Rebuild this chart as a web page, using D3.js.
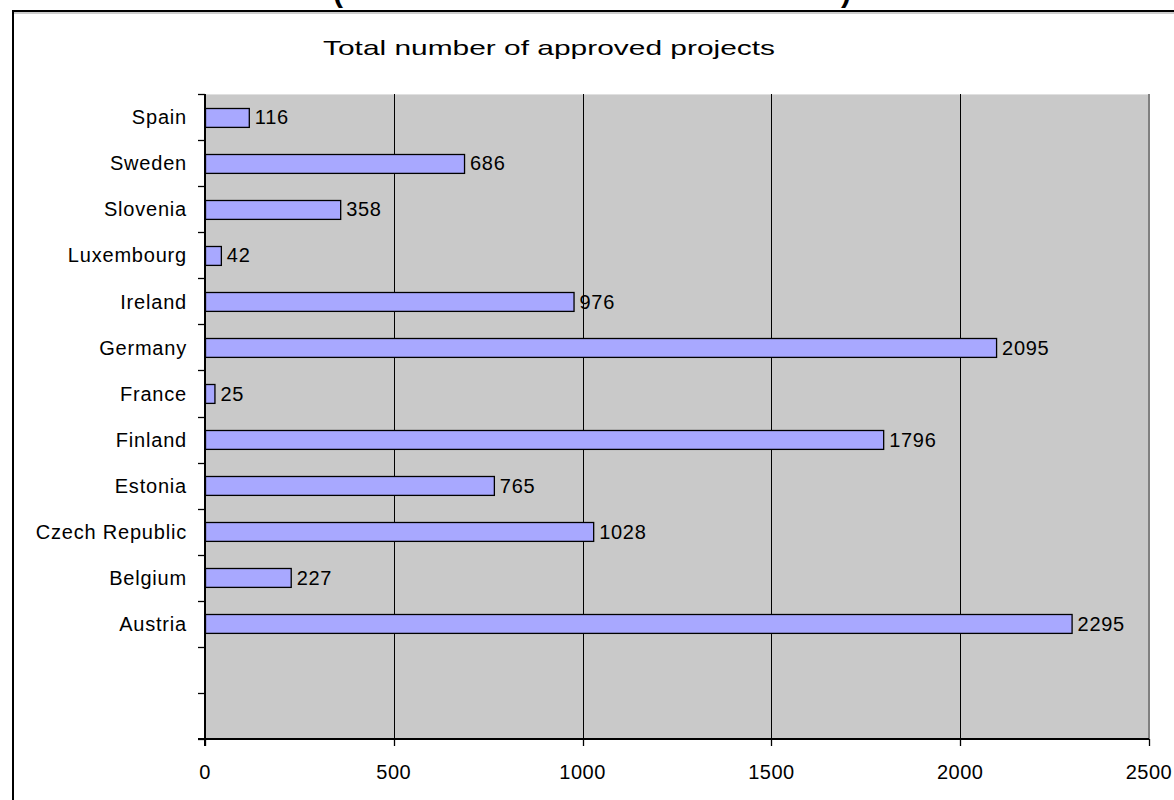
<!DOCTYPE html>
<html><head><meta charset="utf-8">
<script src="https://cdn.jsdelivr.net/npm/d3@7/dist/d3.min.js"></script>
<style>
html,body{margin:0;padding:0;background:#fff;overflow:hidden;}
text{font-family:"Liberation Sans",Arial,sans-serif;fill:#000;}
</style></head>
<body>
<svg id="chart" width="1174" height="800"></svg>
<script>
const categories = ["Spain","Sweden","Slovenia","Luxembourg","Ireland","Germany","France","Finland","Estonia","Czech Republic","Belgium","Austria","",""];
const values = [116,686,358,42,976,2095,25,1796,765,1028,227,2295,null,null];
const xTicks = [0,500,1000,1500,2000,2500];
const chartTitle = "Total number of  approved projects";

const svg = d3.select("#chart");
const m = {left:205, right:1149, top:94, bottom:739};

// outer frame
svg.append("rect").attr("x",13).attr("y",11).attr("width",1300).attr("height",900)
  .attr("fill","#fff").attr("stroke","#000").attr("stroke-width",2);
svg.append("line").attr("x1",14).attr("x2",1174).attr("y1",13).attr("y2",13).attr("stroke","#999").attr("stroke-width",1);

// main title (mostly outside the picture, only the parentheses show)
svg.append("text").attr("x",338).attr("y",2).attr("font-size",30).attr("font-weight","bold").attr("text-anchor","middle").text("(");
svg.append("text").attr("x",846).attr("y",2).attr("font-size",30).attr("font-weight","bold").attr("text-anchor","middle").text(")");

const x = d3.scaleLinear().domain([0,2500]).range([m.left,m.right]);
const y = d3.scaleBand().domain(d3.range(categories.length)).range([m.top,m.bottom]).paddingInner(0.59).paddingOuter(0.295);
const yb = d3.scaleBand().domain(d3.range(categories.length)).range([m.top,m.bottom]);

// plot area
svg.append("rect").attr("x",m.left).attr("y",m.top).attr("width",m.right-m.left).attr("height",m.bottom-m.top).attr("fill","#c9c9c9");
svg.append("line").attr("x1",m.left).attr("x2",m.right).attr("y1",m.top+0.5).attr("y2",m.top+0.5).attr("stroke","#e0e0e0");
svg.append("line").attr("x1",m.right).attr("x2",m.right).attr("y1",m.top).attr("y2",m.bottom).attr("stroke","#808080").attr("stroke-width",2);

// gridlines
svg.append("g").selectAll("line").data(xTicks.filter(d=>d>0&&d<2500)).join("line")
  .attr("x1",d=>Math.round(x(d))+0.5).attr("x2",d=>Math.round(x(d))+0.5)
  .attr("y1",m.top).attr("y2",m.bottom).attr("stroke","#000").attr("stroke-width",1);

// bars
const data = categories.map((c,i)=>({c,v:values[i],i})).filter(d=>d.v!=null);
svg.append("g").selectAll("rect").data(data).join("rect")
  .attr("x",x(0)+0.5).attr("y",d=>Math.round(y(d.i))+0.5)
  .attr("width",d=>x(d.v)-x(0)).attr("height",y.bandwidth())
  .attr("fill","#a8a8ff").attr("stroke","#000").attr("stroke-width",1.3);

// value labels
svg.append("g").selectAll("text").data(data).join("text")
  .attr("x",d=>x(d.v)+6).attr("y",d=>yb(d.i)+yb.bandwidth()/2)
  .attr("dy","0.36em").attr("font-size",20).attr("letter-spacing",0.7).text(d=>d.v);

// y axis
const ya = svg.append("g");
ya.append("line").attr("x1",m.left).attr("x2",m.left).attr("y1",m.top).attr("y2",m.bottom+7).attr("stroke","#000").attr("stroke-width",2);
ya.selectAll("line.t").data(d3.range(categories.length+1)).join("line").attr("class","t")
  .attr("x1",m.left-7).attr("x2",m.left).attr("y1",d=>Math.round(m.top+d*yb.step())+0.5).attr("y2",d=>Math.round(m.top+d*yb.step())+0.5)
  .attr("stroke","#000").attr("stroke-width",1.3);
ya.selectAll("text").data(categories.map((c,i)=>({c,i}))).join("text")
  .attr("x",187).attr("y",d=>yb(d.i)+yb.bandwidth()/2).attr("dy","0.36em")
  .attr("text-anchor","end").attr("font-size",20).attr("letter-spacing",0.8).text(d=>d.c);

// x axis
const xa = svg.append("g");
xa.append("line").attr("x1",m.left-7).attr("x2",m.right).attr("y1",m.bottom).attr("y2",m.bottom).attr("stroke","#000").attr("stroke-width",2);
xa.selectAll("line.t").data(xTicks).join("line").attr("class","t")
  .attr("x1",d=>Math.round(x(d))+0.5).attr("x2",d=>Math.round(x(d))+0.5).attr("y1",m.bottom).attr("y2",m.bottom+7)
  .attr("stroke","#000").attr("stroke-width",1.3);
xa.selectAll("text").data(xTicks).join("text")
  .attr("x",d=>x(d)).attr("y",772).attr("dy","0.36em").attr("text-anchor","middle").attr("font-size",20).attr("letter-spacing",0.5).text(d=>d);

// subtitle
svg.append("text").attr("x",323).attr("y",47).attr("dy","0.36em").attr("font-size",21)
  .attr("textLength",452).attr("lengthAdjust","spacingAndGlyphs").text(chartTitle);
</script>
</body></html>
